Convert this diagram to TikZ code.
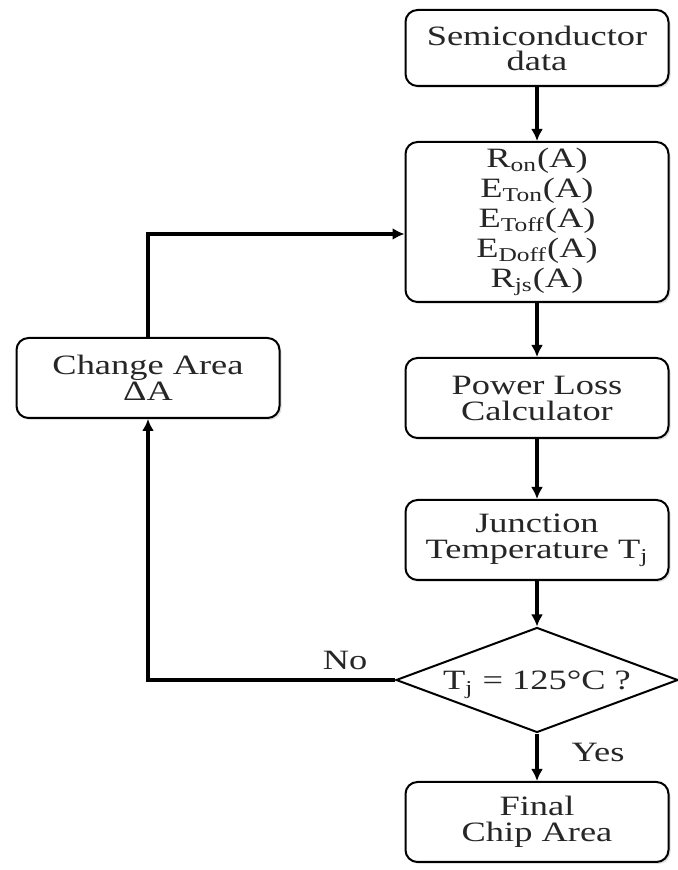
\documentclass[tikz,border=0pt]{standalone}
\usepackage{fontspec}
\setmainfont{Liberation Serif}[FakeStretch=1.3]
\usetikzlibrary{shapes.geometric,arrows.meta,shadows}

\tikzset{
  box/.style={draw, rounded corners=6pt, line width=1pt, fill=white,
    minimum width=131.5pt, minimum height=40pt, align=center, inner sep=2pt,
    drop shadow={shadow xshift=1pt, shadow yshift=-1pt, opacity=0.25},
    font=\fontsize{14}{13}\selectfont, text=black!85},
  decision/.style={draw, diamond, line width=1pt, fill=white, inner sep=0pt,
    text height=4pt, text depth=0pt, aspect=2.69,
    minimum width=141pt, minimum height=52.5pt,
    font=\fontsize{14}{13}\selectfont, text=black!85},
  flow/.style={line width=2pt, -{Latex[length=6pt,width=6pt]}},
  lbl/.style={font=\fontsize{14}{13}\selectfont, text=black!85}
}

\begin{document}
\begin{tikzpicture}[x=1pt,y=1pt]
  \lineskiplimit=-20pt
  \useasboundingbox (0,0) rectangle (338.5,435);

  \node[box, minimum height=38pt, font=\fontsize{14}{12.5}\selectfont] (semi) at (268.5,411) {Semiconductor\\data};
  \node[box, minimum height=80pt, font=\fontsize{14}{15}\selectfont] (param) at (268.5,324)
    {R\textsubscript{on}(A)\\E\textsubscript{Ton}(A)\\E\textsubscript{Toff}(A)\\E\textsubscript{Doff}(A)\\R\textsubscript{js}(A)};
  \node[box] (loss) at (268.5,236) {Power Loss\\Calculator};
  \node[box] (junc) at (268.5,165) {Junction\\Temperature T\textsubscript{j}};
  \node[decision] (check) at (268.5,95) {\makebox[0pt]{\raisebox{-3pt}{T\textsubscript{j} = 125°C ?}}};
  \node[box] (final) at (268.5,24) {Final\\Chip Area};
  \node[box] (change) at (74,246) {Change Area\\ΔA};

  \draw[flow] (semi) -- (param);
  \draw[flow] (param) -- (loss);
  \draw[flow] (loss) -- (junc);
  \draw[flow] (junc) -- (check);
  \draw[flow] (check) -- (final);
  \draw[flow] (check.west) -| (change.south);
  \draw[flow] (change.north) |- ([yshift=-6pt]param.west);

  \node[lbl] (no) at (172.5,105) {No};
  \node[lbl] (yes) at (299,59) {Yes};
\end{tikzpicture}
\end{document}
